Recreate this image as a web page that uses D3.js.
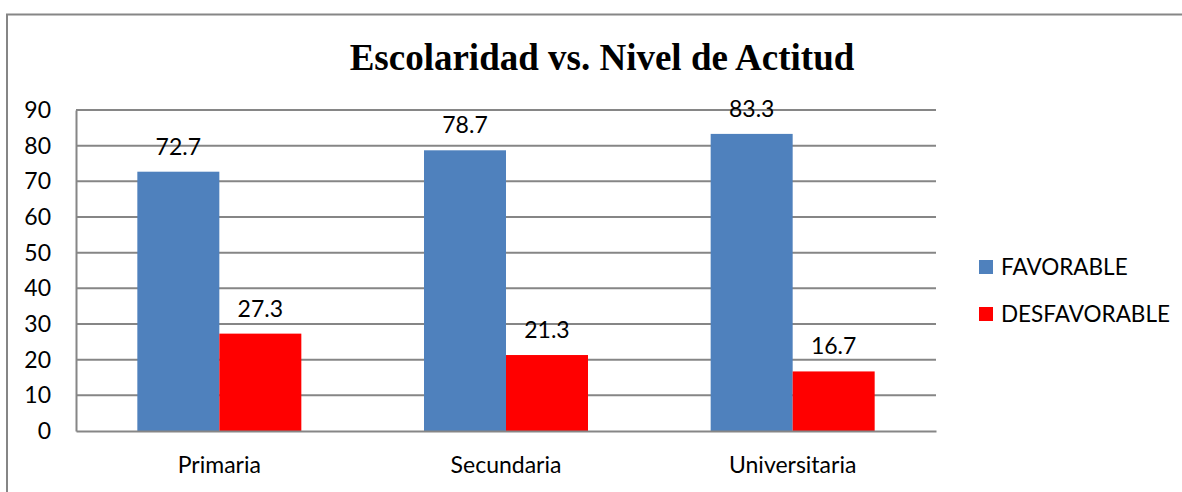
<!DOCTYPE html>
<html>
<head>
<meta charset="utf-8">
<script src="https://cdn.jsdelivr.net/npm/d3@7"></script>
<style>
  body { margin: 0; background: #fff; }
</style>
</head>
<body>
<div id="chart"></div>
<script>
const categories = ["Primaria", "Secundaria", "Universitaria"];
const seriesNames = ["FAVORABLE", "DESFAVORABLE"];
const favorable = [72.7, 78.7, 83.3];
const desfavorable = [27.3, 21.3, 16.7];
const yTicks = [0, 10, 20, 30, 40, 50, 60, 70, 80, 90];
const colors = ["#4f81bd", "#ff0000"];

const width = 1182, height = 492;
const margin = {left: 76, right: 246, top: 110, bottom: 61};
const font = "Lato, 'Open Sans', sans-serif";

const svg = d3.select("#chart").append("svg")
    .attr("width", width)
    .attr("height", height);

// outer chart border
svg.append("rect")
    .attr("x", 7).attr("y", 14.5)
    .attr("width", width + 10).attr("height", height + 10)
    .attr("fill", "none")
    .attr("stroke", "#868686")
    .attr("stroke-width", 2);

const x = d3.scaleBand()
    .domain(categories)
    .range([margin.left, width - margin.right]);

const y = d3.scaleLinear()
    .domain([0, 90])
    .range([height - margin.bottom, margin.top]);

const barW = 82;

// gridlines
svg.append("g")
  .selectAll("line")
  .data(yTicks.filter(d => d > 0))
  .join("line")
    .attr("x1", margin.left).attr("x2", width - margin.right)
    .attr("y1", d => y(d)).attr("y2", d => y(d))
    .attr("stroke", "#868686")
    .attr("stroke-width", 2);

const data = categories.map((c, i) => ({cat: c, vals: [favorable[i], desfavorable[i]]}));

const groups = svg.append("g")
  .selectAll("g")
  .data(data)
  .join("g")
    .attr("transform", d => `translate(${x(d.cat) + x.bandwidth() / 2},0)`);

groups.selectAll("rect")
  .data(d => d.vals)
  .join("rect")
    .attr("x", (d, i) => i === 0 ? -barW : 0)
    .attr("y", d => y(d))
    .attr("width", barW)
    .attr("height", d => y(0) - y(d))
    .attr("fill", (d, i) => colors[i]);

groups.selectAll("text")
  .data(d => d.vals)
  .join("text")
    .attr("x", (d, i) => i === 0 ? -barW / 2 : barW / 2)
    .attr("y", d => y(d) - 17)
    .attr("text-anchor", "middle")
    .attr("font-family", font)
    .attr("font-size", 23)
    .attr("fill", "#000")
    .text(d => d.toFixed(1));

// y axis
const yAxis = svg.append("g")
    .attr("transform", `translate(${margin.left},0)`)
    .call(d3.axisLeft(y).tickValues(yTicks).tickSize(0).tickPadding(25));
yAxis.select(".domain").attr("stroke", "#868686").attr("stroke-width", 2);
yAxis.selectAll("text")
    .attr("font-family", font)
    .attr("font-size", 23)
    .attr("fill", "#000");

// x axis
const xAxis = svg.append("g")
    .attr("transform", `translate(0,${y(0)})`)
    .call(d3.axisBottom(x).tickSize(0).tickPadding(26));
xAxis.select(".domain").attr("stroke", "#868686").attr("stroke-width", 2);
xAxis.selectAll("text")
    .attr("font-family", font)
    .attr("font-size", 23)
    .attr("fill", "#000");

// title
svg.append("text")
    .attr("x", 602).attr("y", 70)
    .attr("text-anchor", "middle")
    .attr("font-family", "'Liberation Serif', 'Times New Roman', serif")
    .attr("font-weight", "bold")
    .attr("font-size", 37)
    .text("Escolaridad vs. Nivel de Actitud");

// legend
const legend = svg.append("g")
  .selectAll("g")
  .data(seriesNames)
  .join("g")
    .attr("transform", (d, i) => `translate(979,${260 + i * 47})`);
legend.append("rect")
    .attr("width", 14).attr("height", 14)
    .attr("fill", (d, i) => colors[i]);
legend.append("text")
    .attr("x", 22).attr("y", 15)
    .attr("font-family", font)
    .attr("font-size", 22.5)
    .attr("fill", "#000")
    .text(d => d);
</script>
</body>
</html>
